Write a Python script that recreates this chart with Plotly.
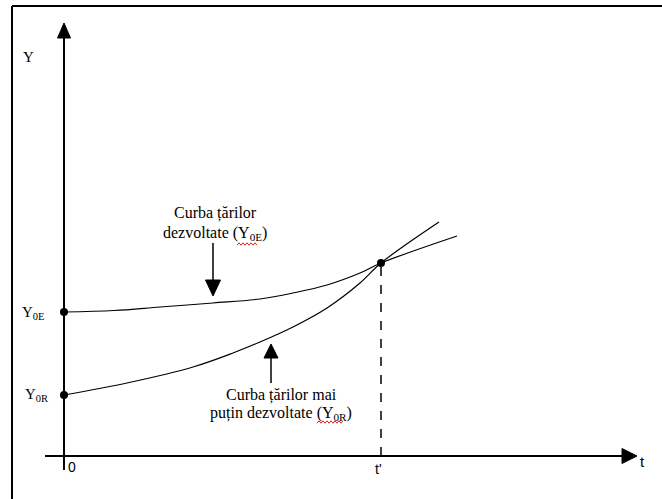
import plotly.graph_objects as go

# curve of developed countries (Y0E) and less developed countries (Y0R)
t_dev = [0, 0.5, 0.96, 1.49, 1.96, 2.29, 2.63, 2.96, 3.17, 3.93]
y_dev = [1.44, 1.455, 1.49, 1.53, 1.57, 1.63, 1.71, 1.83, 1.93, 2.20]

t_less = [0, 0.63, 1.29, 1.69, 1.96, 2.29, 2.63, 2.96, 3.17, 3.75]
y_less = [0.61, 0.73, 0.89, 1.03, 1.14, 1.29, 1.48, 1.73, 1.93, 2.34]

# marked points: Y0E, Y0R and the crossing at t'
pt_t = [0, 0, 3.17]
pt_y = [1.44, 0.61, 1.93]
t_prime = 3.17
y_cross = 1.93

SERIF = "Liberation Serif"
SANS = "Liberation Sans"

fig = go.Figure()
fig.add_trace(go.Scatter(x=t_dev, y=y_dev, mode="lines", line_shape="spline",
                         line=dict(color="black", width=1.2), hoverinfo="skip"))
fig.add_trace(go.Scatter(x=t_less, y=y_less, mode="lines", line_shape="spline",
                         line=dict(color="black", width=1.2), hoverinfo="skip"))
fig.add_trace(go.Scatter(x=pt_t, y=pt_y, mode="markers",
                         marker=dict(color="black", size=8), hoverinfo="skip"))

shapes = []
# axes
shapes.append(dict(type="line", x0=0, x1=0, y0=-0.14, y1=4.2, line=dict(color="black", width=2)))
shapes.append(dict(type="line", x0=-0.19, x1=5.6, y0=0, y1=0, line=dict(color="black", width=2)))
shapes.append(dict(type="path", path="M 0 4.33 L -0.065 4.18 L 0.065 4.18 Z",
                   fillcolor="black", line=dict(color="black", width=1)))
shapes.append(dict(type="path", path="M 5.73 0 L 5.58 0.075 L 5.58 -0.075 Z",
                   fillcolor="black", line=dict(color="black", width=1)))
# dashed t'
shapes.append(dict(type="line", x0=t_prime, x1=t_prime, y0=0, y1=y_cross,
                   line=dict(color="black", width=1.5, dash="dash")))
# pointer arrows
shapes.append(dict(type="line", x0=1.49, x1=1.49, y0=2.13, y1=1.74, line=dict(color="black", width=1.5)))
shapes.append(dict(type="path", path="M 1.49 1.60 L 1.415 1.76 L 1.565 1.76 Z",
                   fillcolor="black", line=dict(color="black", width=1)))
shapes.append(dict(type="line", x0=2.07, x1=2.07, y0=0.73, y1=1.0, line=dict(color="black", width=1.5)))
shapes.append(dict(type="path", path="M 2.07 1.12 L 2.0 0.98 L 2.14 0.98 Z",
                   fillcolor="black", line=dict(color="black", width=1)))
# frame (top and left)
shapes.append(dict(type="line", xref="paper", yref="paper", x0=12 / 662, x1=1, y0=1 - 6 / 499, y1=1 - 6 / 499,
                   line=dict(color="black", width=2)))
shapes.append(dict(type="line", xref="paper", yref="paper", x0=12 / 662, x1=12 / 662, y0=0, y1=1 - 6 / 499,
                   line=dict(color="black", width=2)))


def squiggle(x0, x1, y):
    # red spell-check wave under a word
    pts = []
    n = int((x1 - x0) / 0.02)
    for i in range(n + 1):
        pts.append(f"{x0 + i * 0.02:.3f} {y + (0.012 if i % 2 else -0.012):.3f}")
    return dict(type="path", path="M " + " L ".join(pts), line=dict(color="#e02020", width=1))


shapes.append(squiggle(1.73, 1.95, 2.12))
shapes.append(squiggle(2.53, 2.79, 0.34))


def label(x, y, text, font=SERIF, size=16):
    return dict(x=x, y=y, text=text, showarrow=False, xanchor="center", yanchor="middle",
                font=dict(family=font, size=size, color="black"))


annotations = [
    label(-0.36, 3.99, "Y", size=15),
    label(-0.31, 1.43, "Y<sub>0E</sub>", size=15),
    label(-0.28, 0.61, "Y<sub>0R</sub>", size=15),
    label(0.08, -0.11, "0", SANS, 14),
    label(3.14, -0.13, "t'", SANS, 14),
    label(5.78, -0.05, "t", SANS, 15),
    label(1.51, 2.43, "Curba țărilor"),
    label(1.51, 2.23, "dezvoltate (Y<sub>0E</sub>)"),
    label(2.17, 0.61, "Curba țărilor mai"),
    label(2.17, 0.43, "puțin dezvoltate (Y<sub>0R</sub>)"),
]

fig.update_layout(
    width=662, height=499,
    margin=dict(l=0, r=0, t=0, b=0),
    paper_bgcolor="white", plot_bgcolor="white",
    showlegend=False,
    shapes=shapes,
    annotations=annotations,
)
fig.update_xaxes(range=[-0.64, 5.98], visible=False)
fig.update_yaxes(range=[-0.43, 4.56], visible=False)

fig.write_html("out.html", config={"displayModeBar": False},
               post_script="document.body.style.margin='0';")
